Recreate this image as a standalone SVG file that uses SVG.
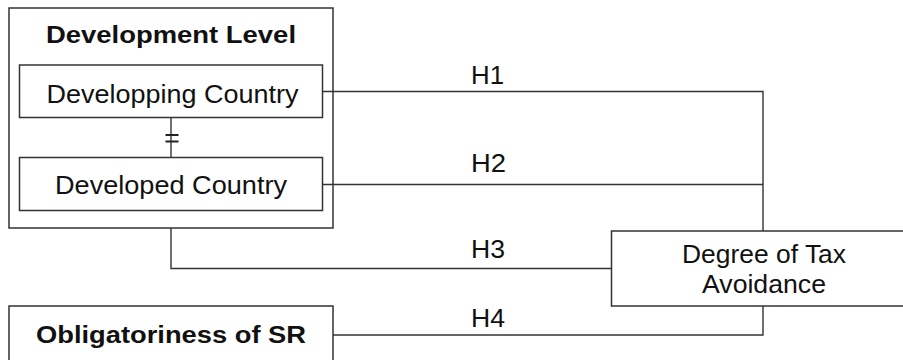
<svg xmlns="http://www.w3.org/2000/svg" width="903" height="360" viewBox="0 0 903 360">
  <style>
    .box { fill: #ffffff; stroke: #333333; stroke-width: 1.5; }
    .wire { fill: none; stroke: #333333; stroke-width: 1.4; }
    .bar { fill: none; stroke: #222222; stroke-width: 1.8; }
    .t { font-family: "Liberation Sans", Arial, sans-serif; fill: #111111; }
    .reg { font-size: 25px; }
    .bold { font-size: 23.5px; font-weight: bold; }
    .hyp { font-size: 25.5px; }
  </style>
  <rect width="903" height="360" fill="#ffffff"/>

  <g id="development-level">
    <rect class="box" x="9" y="8" width="324" height="220"/>
    <text class="t bold" x="171" y="43.3" text-anchor="middle" textLength="250" lengthAdjust="spacingAndGlyphs">Development Level</text>
  </g>

  <g id="developing-country">
    <rect class="box" x="19.5" y="65" width="303" height="52.5"/>
    <text class="t reg" x="172.5" y="103.3" text-anchor="middle" textLength="252" lengthAdjust="spacingAndGlyphs">Developping Country</text>
  </g>

  <g id="developed-country">
    <rect class="box" x="19.5" y="157.5" width="303" height="53"/>
    <text class="t reg" x="171" y="193.5" text-anchor="middle" textLength="232" lengthAdjust="spacingAndGlyphs">Developed Country</text>
  </g>

  <g id="tax-avoidance">
    <rect class="box" x="611.5" y="231" width="300" height="75"/>
    <text class="t reg" x="764" y="263.3" text-anchor="middle" textLength="164" lengthAdjust="spacingAndGlyphs">Degree of Tax</text>
    <text class="t reg" x="764" y="293.3" text-anchor="middle" textLength="124" lengthAdjust="spacingAndGlyphs">Avoidance</text>
  </g>

  <g id="obligatoriness">
    <rect class="box" x="9" y="306" width="324" height="60"/>
    <text class="t bold" x="171" y="343.3" text-anchor="middle" textLength="270" lengthAdjust="spacingAndGlyphs">Obligatoriness of SR</text>
  </g>

  <g id="connectors">
    <!-- link between the two country categories, marked with a double bar -->
    <path class="wire" d="M171,117.5 V157.5"/>
    <path class="bar" d="M165.5,135 H178.5 M165.5,141.5 H178.5"/>
    <!-- hypothesis paths -->
    <path class="wire" d="M322.5,91.5 H763 V231"/>
    <path class="wire" d="M322.5,184.5 H763"/>
    <path class="wire" d="M171,228 V268.5 H611.5"/>
    <path class="wire" d="M333,335 H763 V306"/>
  </g>

  <g id="hypothesis-labels">
    <text class="t hyp" x="471" y="84" textLength="33" lengthAdjust="spacingAndGlyphs">H1</text>
    <text class="t hyp" x="471" y="171.5" textLength="35" lengthAdjust="spacingAndGlyphs">H2</text>
    <text class="t hyp" x="471" y="258.3" textLength="34" lengthAdjust="spacingAndGlyphs">H3</text>
    <text class="t hyp" x="471" y="326.5" textLength="34" lengthAdjust="spacingAndGlyphs">H4</text>
  </g>
</svg>
